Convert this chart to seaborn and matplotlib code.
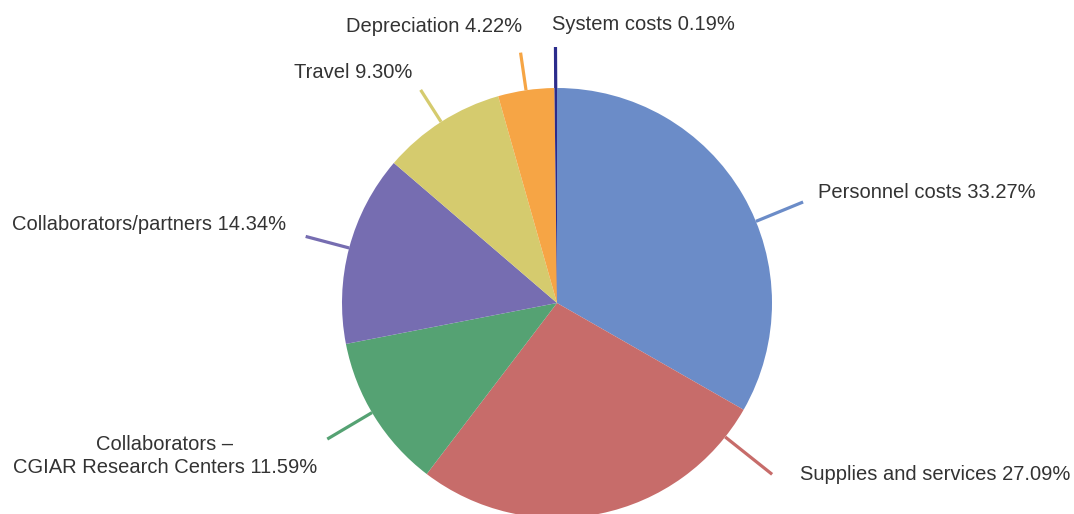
import numpy as np
import matplotlib
matplotlib.use("Agg")
import matplotlib.pyplot as plt
import seaborn as sns

# Budget shares by cost category (percent)
categories = [
    "Personnel costs",
    "Supplies and services",
    "Collaborators –\nCGIAR Research Centers",
    "Collaborators/partners",
    "Travel",
    "Depreciation",
    "System costs",
]
shares = [33.27, 27.09, 11.59, 14.34, 9.30, 4.22, 0.19]
colors = ["#6b8cc8", "#c76c6a", "#55a273", "#766db1", "#d5cb6e", "#f6a545", "#2b2c8c"]

sns.set_theme(style="white")
plt.rcParams["font.family"] = ["Liberation Sans", "DejaVu Sans"]

W, H = 1074, 514
fig = plt.figure(figsize=(W / 100, H / 100), dpi=100)
ax = fig.add_axes([0, 0, 1, 1])

cx, cy, R = 557, H - 303, 215
wedges, _ = ax.pie(
    shares, colors=colors, startangle=90, counterclock=False,
    radius=R, center=(cx, cy), frame=True,
    wedgeprops=dict(linewidth=0),
)
ax.set_xlim(0, W)
ax.set_ylim(0, H)
ax.set_aspect("equal")
ax.axis("off")

# leader-line layout: angular shift from wedge middle, length in px
leader_shift = [-7.8, 40.0, -1.2, 0.0, 0.0, 0.0, 0.0]
leader_len = [51, 60, 52, 45, 38, 38, 41]

# label anchors (x, y from top) and horizontal alignment
label_pos = [
    (818, 192, "left"),
    (800, 474, "left"),
    (165, 456, "center"),
    (286, 225, "right"),
    (412, 72, "right"),
    (522, 27, "right"),
    (552, 25, "left"),
]

for w, name, val, col, sh, ln, (lx, ly, ha) in zip(
        wedges, categories, shares, colors, leader_shift, leader_len, label_pos):
    mid = np.deg2rad((w.theta1 + w.theta2) / 2 + sh)
    r0, r1 = R, R + ln
    ax.plot([cx + r0 * np.cos(mid), cx + r1 * np.cos(mid)],
            [cy + r0 * np.sin(mid), cy + r1 * np.sin(mid)],
            color=col, lw=2.3, solid_capstyle="butt")
    ax.text(lx, H - ly, f"{name} {val:.2f}%", ha=ha, va="center",
            multialignment="center", fontsize=14.5, color="#333333",
            linespacing=1.3)

fig.savefig("out.png", dpi=100, facecolor="white")
